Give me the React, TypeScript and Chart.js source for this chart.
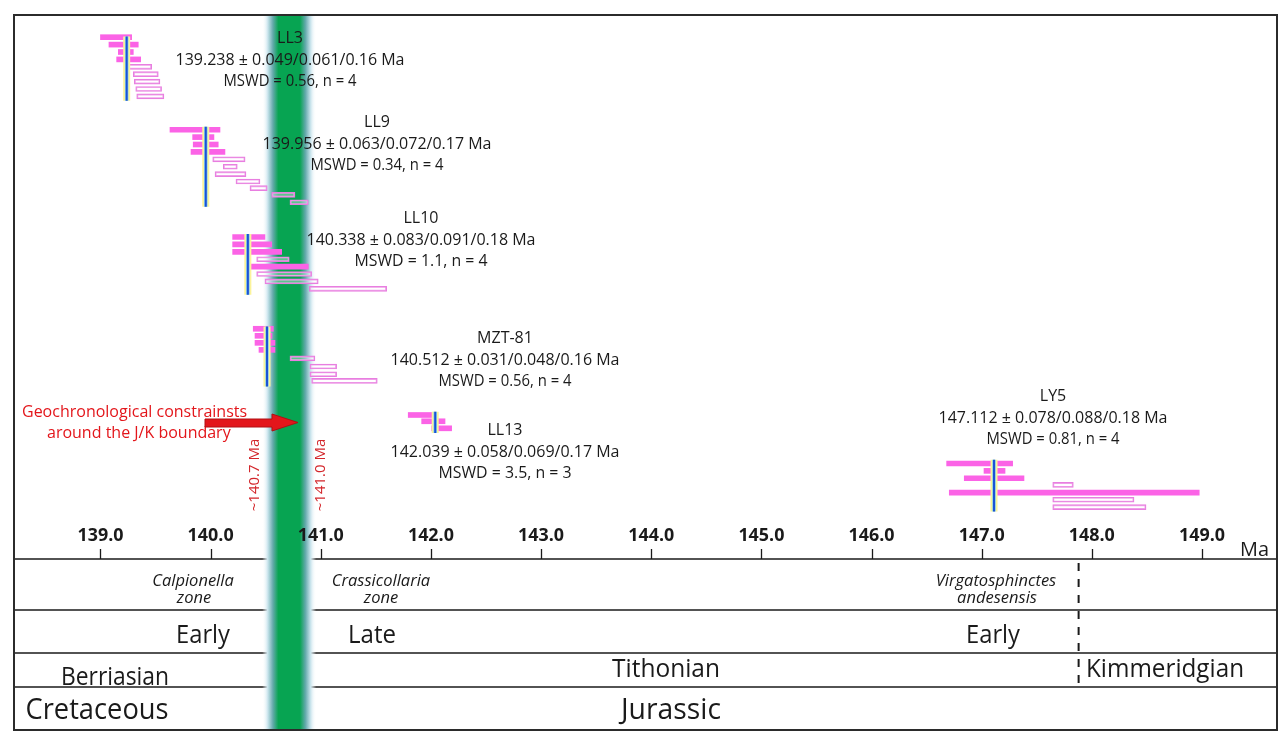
import React, { useEffect, useRef } from "react";
import { Chart, registerables } from "chart.js";

Chart.register(...registerables);

// ---------- axis ----------
const TICK_VALUES = [139, 140, 141, 142, 143, 144, 145, 146, 147, 148, 149];
const TICK_LABELS = ["139.0", "140.0", "141.0", "142.0", "143.0", "144.0", "145.0", "146.0", "147.0", "148.0", "149.0"];
const AXIS_UNIT = "Ma";
const X_MIN = 138.215;
const X_MAX = 149.681;
const ROW_MAX = 73.51;

// ---------- samples ----------
const SAMPLE_NAMES = ["LL3", "LL9", "LL10", "MZT-81", "LL13", "LY5"];
const MEAN_AGES = [139.238, 139.956, 140.338, 140.512, 142.039, 147.112];
const AGE_TEXTS = [
  "139.238 ± 0.049/0.061/0.16 Ma",
  "139.956 ± 0.063/0.072/0.17 Ma",
  "140.338 ± 0.083/0.091/0.18 Ma",
  "140.512 ± 0.031/0.048/0.16 Ma",
  "142.039 ± 0.058/0.069/0.17 Ma",
  "147.112 ± 0.078/0.088/0.18 Ma",
];
const MSWD_TEXTS = [
  "MSWD = 0.56, n = 4",
  "MSWD = 0.34, n = 4",
  "MSWD = 1.1, n = 4",
  "MSWD = 0.56, n = 4",
  "MSWD = 3.5, n = 3",
  "MSWD = 0.81, n = 4",
];
// rank rows spanned by the weighted-mean line of each sample
const MEAN_TOP_ROWS = [2.9, 15.1, 29.6, 42.1, 53.6, 60.1];
const MEAN_BOTTOM_ROWS = [11.6, 25.9, 37.8, 50.2, 56.5, 67.1];

// individual analyses (age ranges in Ma) and their rank rows
const LL3_USED = [[139.0, 139.283], [139.077, 139.343], [139.162, 139.298], [139.147, 139.365]];
const LL3_USED_ROWS = [3, 4, 5, 6];
const LL3_REJECTED = [[139.243, 139.465], [139.298, 139.525], [139.307, 139.54], [139.32, 139.555], [139.329, 139.576]];
const LL3_REJECTED_ROWS = [7, 8, 9, 10, 11];

const LL9_USED = [[139.631, 140.085], [139.837, 140.03], [139.842, 140.069], [139.822, 140.13]];
const LL9_USED_ROWS = [15.5, 16.5, 17.5, 18.5];
const LL9_REJECTED = [[140.019, 140.313], [140.115, 140.242], [140.04, 140.321], [140.23, 140.448], [140.357, 140.514], [140.554, 140.766], [140.72, 140.887]];
const LL9_REJECTED_ROWS = [19.5, 20.5, 21.5, 22.5, 23.4, 24.3, 25.3];

const LL10_USED = [[140.2, 140.493], [140.2, 140.554], [140.2, 140.645], [140.321, 140.887]];
const LL10_USED_ROWS = [30, 31, 32, 34];
const LL10_REJECTED = [[140.418, 140.714], [140.418, 140.917], [140.493, 140.977], [140.896, 141.598]];
const LL10_REJECTED_ROWS = [33, 35, 36, 37];

const MZT81_USED = [[140.387, 140.569], [140.403, 140.557], [140.403, 140.584], [140.439, 140.584]];
const MZT81_USED_ROWS = [42.4, 43.35, 44.3, 45.25];
const MZT81_REJECTED = [[140.72, 140.947], [140.901, 141.144], [140.901, 141.144], [140.917, 141.513]];
const MZT81_REJECTED_ROWS = [46.4, 47.5, 48.55, 49.45];

const LL13_USED = [[141.794, 142.037], [141.916, 142.128], [142.007, 142.188]];
const LL13_USED_ROWS = [54.05, 54.9, 55.85];

const LY5_USED = [[146.682, 147.281], [147.021, 147.212], [146.842, 147.384], [146.706, 148.975]];
const LY5_USED_ROWS = [60.6, 61.6, 62.6, 64.55];
const LY5_REJECTED = [[147.645, 147.832], [147.645, 148.383], [147.645, 148.492]];
const LY5_REJECTED_ROWS = [63.5, 65.5, 66.5];

// boundary band and stage boundary (Ma)
const BAND_FROM = 140.468;
const BAND_TO = 140.958;
const KIMMERIDGIAN_BOUNDARY = 147.88;
const BAND_LABELS = ["~140.7 Ma", "~141.0 Ma"];
const BAND_LABEL_AGES = [140.395, 140.995];
const ANNOTATION_LINES = ["Geochronological constrainsts", "around the J/K boundary"];

// ---------- layout (pixels) ----------
const FRAME = { left: 14, top: 15, right: 1277, bottom: 730 };
const TABLE_LINES_Y = [559, 610, 653, 687];
const LABEL_X = [290, 377, 421, 505, 505, 1053];
const LABEL_Y = [37, 121, 217, 337, 429, 395];

const FONT = '"Open Sans", "Noto Sans", sans-serif';
const PINK = "#fb63e6";
const PINK_LINE = "#e87ee0";
const RED = "#e3161b";

function toPairs(ranges: number[][], rows: number[]) {
  return ranges.map((r, i) => ({ x: [r[0], r[1]], y: rows[i] }));
}

const USED_POINTS = [
  ...toPairs(LL3_USED, LL3_USED_ROWS),
  ...toPairs(LL9_USED, LL9_USED_ROWS),
  ...toPairs(LL10_USED, LL10_USED_ROWS),
  ...toPairs(MZT81_USED, MZT81_USED_ROWS),
  ...toPairs(LL13_USED, LL13_USED_ROWS),
  ...toPairs(LY5_USED, LY5_USED_ROWS),
];
const REJECTED_POINTS = [
  ...toPairs(LL3_REJECTED, LL3_REJECTED_ROWS),
  ...toPairs(LL9_REJECTED, LL9_REJECTED_ROWS),
  ...toPairs(LL10_REJECTED, LL10_REJECTED_ROWS),
  ...toPairs(MZT81_REJECTED, MZT81_REJECTED_ROWS),
  ...toPairs(LY5_REJECTED, LY5_REJECTED_ROWS),
];

function meanLinePoints() {
  const pts: { x: number; y: number }[] = [];
  MEAN_AGES.forEach((m, i) => {
    pts.push({ x: m, y: MEAN_TOP_ROWS[i] });
    pts.push({ x: m, y: MEAN_BOTTOM_ROWS[i] });
    pts.push({ x: m, y: NaN });
  });
  return pts;
}

function text(ctx: CanvasRenderingContext2D, s: string, x: number, y: number, font: string, color: string, align: CanvasTextAlign = "center", maxW?: number) {
  ctx.font = font;
  ctx.fillStyle = color;
  ctx.textAlign = align;
  ctx.textBaseline = "alphabetic";
  if (maxW) ctx.fillText(s, x, y, maxW);
  else ctx.fillText(s, x, y);
}

function hline(ctx: CanvasRenderingContext2D, x0: number, y0: number, x1: number, y1: number) {
  ctx.beginPath();
  ctx.moveTo(x0, y0);
  ctx.lineTo(x1, y1);
  ctx.stroke();
}

const overlayPlugin = {
  id: "overlay",
  beforeDatasetsDraw(chart: any) {
    const ctx: CanvasRenderingContext2D = chart.ctx;
    const xs = chart.scales.x;
    ctx.save();
    ctx.strokeStyle = "#1a1a1a";
    ctx.lineWidth = 1.3;
    TABLE_LINES_Y.forEach((y) => hline(ctx, FRAME.left, y, FRAME.right, y));
    TICK_VALUES.forEach((v) => {
      const px = Math.round(xs.getPixelForValue(v)) + 0.5;
      hline(ctx, px, 549, px, TABLE_LINES_Y[0]);
    });
    ctx.lineWidth = 2;
    ctx.setLineDash([8, 8]);
    const dx = xs.getPixelForValue(KIMMERIDGIAN_BOUNDARY);
    hline(ctx, dx, TABLE_LINES_Y[0] + 4, dx, TABLE_LINES_Y[3]);
    ctx.setLineDash([]);
    ctx.strokeStyle = "#2b2b2b";
    ctx.strokeRect(FRAME.left, FRAME.top, FRAME.right - FRAME.left, FRAME.bottom - FRAME.top);

    // J/K band
    const b0 = xs.getPixelForValue(BAND_FROM);
    const b1 = xs.getPixelForValue(BAND_TO);
    const g = ctx.createLinearGradient(b0, 0, b1, 0);
    g.addColorStop(0, "rgba(255,255,255,0)");
    g.addColorStop(0.1, "rgba(205,230,238,1)");
    g.addColorStop(0.2, "#63a9ab");
    g.addColorStop(0.3, "#07a452");
    g.addColorStop(0.7, "#07a452");
    g.addColorStop(0.8, "#63a9ab");
    g.addColorStop(0.9, "rgba(205,230,238,1)");
    g.addColorStop(1, "rgba(255,255,255,0)");
    ctx.fillStyle = g;
    ctx.fillRect(b0, FRAME.top + 1, b1 - b0, FRAME.bottom - FRAME.top - 2);
    ctx.restore();
  },
  afterDatasetsDraw(chart: any) {
    const ctx: CanvasRenderingContext2D = chart.ctx;
    const xs = chart.scales.x;
    ctx.save();
    // tick labels
    TICK_VALUES.forEach((v, i) => {
      text(ctx, TICK_LABELS[i], xs.getPixelForValue(v), 541, `bold 18px ${FONT}`, "#1a1a1a", "center", 46);
    });
    text(ctx, AXIS_UNIT, 1240, 556, `20px ${FONT}`, "#1a1a1a", "left", 29);

    // sample labels
    SAMPLE_NAMES.forEach((n, i) => {
      const x = LABEL_X[i];
      const y = LABEL_Y[i];
      text(ctx, n, x, y + 6, `16px ${FONT}`, "#1a1a1a", "center");
      text(ctx, AGE_TEXTS[i], x, y + 27.5, `16px ${FONT}`, "#1a1a1a", "center", 231);
      text(ctx, MSWD_TEXTS[i], x, y + 49, `16px ${FONT}`, "#1a1a1a", "center", 133);
    });

    // table
    const it = `italic 16.5px ${FONT}`;
    text(ctx, "Calpionella", 193, 586, it, "#1a1a1a", "center", 96);
    text(ctx, "zone", 194, 603, it, "#1a1a1a");
    text(ctx, "Crassicollaria", 381, 586, it, "#1a1a1a", "center", 111);
    text(ctx, "zone", 381, 603, it, "#1a1a1a");
    text(ctx, "Virgatosphinctes", 996, 586, it, "#1a1a1a", "center", 142);
    text(ctx, "andesensis", 997, 603, it, "#1a1a1a", "center", 90);
    const f24 = `25px ${FONT}`;
    text(ctx, "Early", 203, 643, f24, "#1a1a1a", "center", 54);
    text(ctx, "Late", 372, 643, f24, "#1a1a1a", "center", 48);
    text(ctx, "Early", 993, 643, f24, "#1a1a1a", "center", 54);
    text(ctx, "Berriasian", 115, 685, f24, "#1a1a1a", "center", 108);
    text(ctx, "Tithonian", 666, 677, f24, "#1a1a1a", "center", 108);
    text(ctx, "Kimmeridgian", 1165, 677, f24, "#1a1a1a", "center", 158);
    const f28 = `29px ${FONT}`;
    text(ctx, "Cretaceous", 97, 719, f28, "#1a1a1a", "center", 143);
    text(ctx, "Jurassic", 671, 719, f28, "#1a1a1a", "center", 100);

    // red annotation
    text(ctx, ANNOTATION_LINES[0], 22, 417, `16px ${FONT}`, RED, "left", 228);
    text(ctx, ANNOTATION_LINES[1], 47, 438, `16px ${FONT}`, RED, "left", 192);
    ctx.fillStyle = RED;
    ctx.strokeStyle = "#b01015";
    ctx.lineWidth = 1;
    ctx.beginPath();
    ctx.moveTo(205, 419);
    ctx.lineTo(272, 419);
    ctx.lineTo(272, 414);
    ctx.lineTo(298, 422.5);
    ctx.lineTo(272, 431);
    ctx.lineTo(272, 427);
    ctx.lineTo(205, 427);
    ctx.closePath();
    ctx.fill();
    ctx.stroke();

    BAND_LABELS.forEach((s, i) => {
      const px = xs.getPixelForValue(BAND_LABEL_AGES[i]);
      ctx.save();
      ctx.translate(px + 5, 475);
      ctx.rotate(-Math.PI / 2);
      text(ctx, s, 0, 0, `15px ${FONT}`, "#d3262b", "center", 77);
      ctx.restore();
    });
    ctx.restore();
  },
};

export default function App() {
  const ref = useRef<HTMLCanvasElement | null>(null);
  useEffect(() => {
    if (!ref.current) return;
    const line = meanLinePoints();
    const chart = new Chart(ref.current, {
      type: "bar",
      data: {
        datasets: [
          {
            type: "line",
            label: "mean band",
            data: line,
            borderColor: "#fbf39a",
            borderWidth: 7,
            pointRadius: 0,
            spanGaps: false,
            indexAxis: "y",
            order: 2,
          } as any,
          {
            type: "line",
            label: "mean inner",
            data: line,
            borderColor: "#86d0ef",
            borderWidth: 3.5,
            pointRadius: 0,
            spanGaps: false,
            indexAxis: "y",
            order: 1,
          } as any,
          {
            type: "line",
            label: "weighted mean",
            data: line,
            borderColor: "#1c50d6",
            borderWidth: 2,
            pointRadius: 0,
            spanGaps: false,
            indexAxis: "y",
            order: 0,
          } as any,
          {
            type: "bar",
            label: "used",
            data: USED_POINTS as any,
            backgroundColor: PINK,
            borderWidth: 0,
            barThickness: 5,
            grouped: false,
            indexAxis: "y",
            order: 3,
          } as any,
          {
            type: "bar",
            label: "rejected",
            data: REJECTED_POINTS as any,
            backgroundColor: "rgba(255,255,255,0.35)",
            borderColor: PINK_LINE,
            borderWidth: 1.2,
            borderSkipped: false,
            barThickness: 5,
            grouped: false,
            indexAxis: "y",
            order: 4,
          } as any,
        ],
      },
      options: {
        animation: false,
        responsive: true,
        maintainAspectRatio: false,
        indexAxis: "y",
        layout: { padding: { left: FRAME.left, right: 1288 - FRAME.right, top: FRAME.top, bottom: 744 - TABLE_LINES_Y[0] } },
        plugins: { legend: { display: false }, tooltip: { enabled: false }, title: { display: false } },
        scales: {
          x: { type: "linear", min: X_MIN, max: X_MAX, display: false, offset: false, beginAtZero: false },
          y: { type: "linear", min: 0, max: ROW_MAX, reverse: true, display: false, offset: false, beginAtZero: false },
        },
      } as any,
      plugins: [overlayPlugin],
    });
    return () => chart.destroy();
  }, []);
  return (
    <div style={{ position: "absolute", left: 0, top: 0, width: 1288, height: 744, background: "#fff" }}>
      <canvas ref={ref} />
    </div>
  );
}
